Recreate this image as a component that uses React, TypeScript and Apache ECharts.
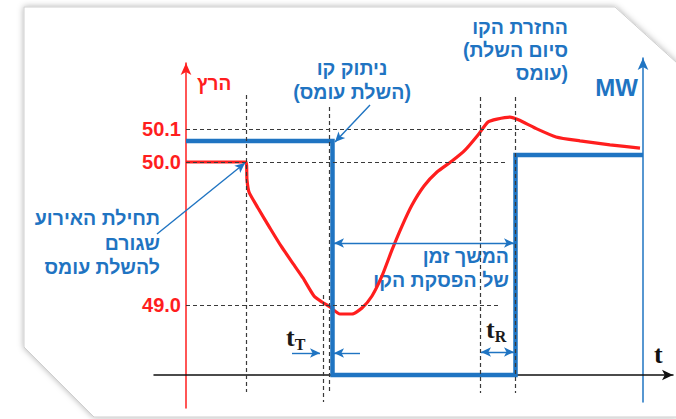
import { useEffect, useRef } from 'react';
import * as echarts from 'echarts';

// ---- data (time in arbitrary seconds, frequency in Hz, MW in % of load) ----
const timeSec = [0, 6.0, 6.1, 6.3, 7.2, 8.4, 9.5, 10.8, 11.7, 12.8, 13.6, 14.4, 15.4, 16.6, 17.6, 18.6, 19.6, 20.6, 21.6, 22.6, 23.8, 25.1, 26.6, 27.9, 29.2, 30.2, 31.1, 32.4, 33.3, 34.9, 37.0, 39.4, 42.4, 45.4];
const freqHz = [50.0, 50.0, 49.874, 49.79, 49.678, 49.538, 49.413, 49.28, 49.189, 49.063, 49.021, 48.986, 48.937, 48.937, 48.979, 49.063, 49.203, 49.385, 49.552, 49.699, 49.832, 49.93, 50.003, 50.036, 50.082, 50.121, 50.13, 50.136, 50.127, 50.103, 50.076, 50.064, 50.052, 50.042];

const mwTime = [0, 14.65, 14.65, 32.95, 32.95, 45.7];
const mwValue = [100, 100, 0, 0, 94, 94];

const freqTicks = [49.0, 50.0, 50.1];
const freqGuideEnd = [31.2, 31.9, 33.9];

const vGuideT = [6.0, 13.7, 14.35, 29.4, 32.95];
const vGuideTop = [28.0, 8.0, 26.8, 27.8, 27.8];
const vGuideBottom = [-1.7, -2.7, -1.8, -1.8, -1.8];

const arrowFrom = [[-2.9, 14.1], [18.4, 27.0], [28.9, 31.8], [14.8, 13.2], [10.6, 2.2], [17.4, 2.2], [29.5, 2.3]];
const arrowTo = [[5.9, 21.2], [14.9, 23.3], [32.6, 22.1], [32.8, 13.2], [13.4, 2.2], [14.8, 2.2], [32.8, 2.3]];
const arrowBoth = [false, false, false, true, false, false, true];

// schematic (piecewise) frequency scale of the diagram
const F_REF = 50.0;
const U_REF = 21.3;
const UP_SLOPE = 33;
const DOWN_SLOPE = 14.3;
const toAxis = (f: number) => (f >= F_REF ? U_REF + (f - F_REF) * UP_SLOPE : U_REF - (F_REF - f) * DOWN_SLOPE);

const RED = '#ff1e1e';
const BLUE = '#1f74c2';
const SANS = '"Liberation Sans", Arial, sans-serif';
const SERIF = '"Liberation Serif", "Times New Roman", serif';

export default function App() {
  const ref = useRef<HTMLDivElement>(null);

  useEffect(() => {
    if (!ref.current) return;
    const chart = echarts.init(ref.current, undefined, { renderer: 'svg' });
    const tickU = freqTicks.map(toAxis);

    const guides: any[] = [];
    freqTicks.forEach((f, i) => {
      guides.push([{ coord: [0, toAxis(f)] }, { coord: [freqGuideEnd[i], toAxis(f)] }]);
    });
    vGuideT.forEach((t, i) => {
      guides.push([{ coord: [t, vGuideTop[i]] }, { coord: [t, vGuideBottom[i]] }]);
    });

    const arrows = arrowFrom.map((a, i) => [
      { coord: a, symbol: arrowBoth[i] ? 'arrow' : 'none' },
      { coord: arrowTo[i], symbol: 'arrow' },
    ]);

    const textStyle = (extra: any) => ({
      fill: BLUE,
      fontFamily: SANS,
      fontWeight: 'bold',
      fontSize: 19.5,
      ...extra,
    });

    const richT = {
      a: { fontFamily: SERIF, fontWeight: 'bold', fontSize: 26, lineHeight: 30, fill: '#1a1a1a', verticalAlign: 'middle' },
      b: { fontFamily: SERIF, fontWeight: 'bold', fontSize: 16, lineHeight: 18, fill: '#1a1a1a', verticalAlign: 'bottom' },
    };

    const option: any = {
      animation: false,
      backgroundColor: '#ffffff',
      grid: [
        { left: 154, right: 3, top: 63, bottom: 11, outerBoundsMode: 'none' },
        { left: 154, right: 3, top: 58, bottom: 17, outerBoundsMode: 'none' },
      ],
      xAxis: [
        {
          type: 'value', gridIndex: 0, min: -3.2, max: 48.7,
          axisLine: { show: true, onZero: true, symbol: ['none', 'arrow'], symbolSize: [8, 11], lineStyle: { color: '#111', width: 1.5 } },
          axisTick: { show: false }, axisLabel: { show: false }, splitLine: { show: false },
        },
        { type: 'value', gridIndex: 1, min: -3.2, max: 48.7, show: false },
      ],
      yAxis: [
        {
          type: 'value', gridIndex: 0, min: -3.3, max: 31.2,
          axisLine: { show: true, onZero: true, symbol: ['none', 'arrow'], symbolSize: [8, 12], lineStyle: { color: RED, width: 1.5 } },
          axisTick: { show: false }, splitLine: { show: false },
          axisLabel: {
            show: true,
            customValues: tickU,
            formatter: (v: number) => {
              let best = 0;
              tickU.forEach((u, i) => { if (Math.abs(u - v) < Math.abs(tickU[best] - v)) best = i; });
              return freqTicks[best].toFixed(1);
            },
            color: RED, fontSize: 20, fontWeight: 'bold', fontFamily: SANS, margin: -27,
          },
        },
        {
          type: 'value', gridIndex: 1, min: -11.54, max: 135.47, position: 'right', offset: -30,
          axisLine: { show: true, onZero: false, symbol: ['none', 'arrow'], symbolSize: [8, 12], lineStyle: { color: BLUE, width: 1.5 } },
          axisTick: { show: false }, axisLabel: { show: false }, splitLine: { show: false },
        },
      ],
      series: [
        {
          type: 'line', name: 'guides', xAxisIndex: 0, yAxisIndex: 0, data: [], clip: false, silent: true, z: 1,
          markLine: {
            silent: true, symbol: ['none', 'none'], label: { show: false }, emphasis: { disabled: true },
            lineStyle: { color: '#3a3a3a', type: [4, 3], width: 1.2 },
            data: guides,
          },
        },
        {
          type: 'line', name: 'frequency', xAxisIndex: 0, yAxisIndex: 0,
          data: timeSec.map((t, i) => [t, toAxis(freqHz[i])]),
          showSymbol: false, smooth: 0.2, silent: true, z: 3,
          lineStyle: { color: RED, width: 3.2 }, itemStyle: { color: RED },
        },
        {
          type: 'line', name: 'MW', xAxisIndex: 1, yAxisIndex: 1,
          data: mwTime.map((t, i) => [t, mwValue[i]]),
          showSymbol: false, silent: true, z: 4,
          lineStyle: { color: BLUE, width: 4.5, join: 'miter' }, itemStyle: { color: BLUE },
        },
        {
          type: 'line', name: 'arrows', xAxisIndex: 0, yAxisIndex: 0, data: [], clip: false, silent: true, z: 5,
          markLine: {
            silent: true, symbolSize: [7, 10], label: { show: false }, emphasis: { disabled: true },
            lineStyle: { color: BLUE, type: 'solid', width: 1.4 },
            data: arrows,
          },
        },
      ],
      graphic: [
        {
          type: 'polygon', z: -100, silent: true,
          shape: { points: [[24, 7], [615, 7], [677, 63], [677, 417], [94, 417], [24, 347]] },
          style: { fill: '#fff', stroke: '#cfcfcf', lineWidth: 1, shadowBlur: 6, shadowColor: 'rgba(0,0,0,0.3)' },
        },
        { type: 'text', x: 197, y: 83, silent: true, style: textStyle({ text: 'הרץ', fill: RED, fontSize: 19, align: 'left', verticalAlign: 'middle' }) },
        { type: 'text', x: 352, y: 56, silent: true, style: textStyle({ text: 'ניתוק קו\n(השלת עומס)', align: 'center', verticalAlign: 'top', lineHeight: 24 }) },
        { type: 'text', x: 568, y: 15, silent: true, style: textStyle({ text: 'החזרת הקו\n(סיום השלת\nעומס)', align: 'right', verticalAlign: 'top', lineHeight: 23 }) },
        { type: 'text', x: 638, y: 87, silent: true, style: textStyle({ text: 'MW', fontSize: 24, align: 'right', verticalAlign: 'middle' }) },
        { type: 'text', x: 160, y: 206, silent: true, style: textStyle({ text: 'תחילת האירוע\nשגורם\nלהשלת עומס', align: 'right', verticalAlign: 'top', lineHeight: 24.5 }) },
        { type: 'text', x: 509, y: 244, silent: true, style: textStyle({ text: 'המשך זמן\nשל הפסקת הקו', align: 'right', verticalAlign: 'top', lineHeight: 24 }) },
        { type: 'text', x: 286, y: 322, silent: true, style: { text: '{a|t}{b|T}', align: 'left', verticalAlign: 'top', rich: richT } },
        { type: 'text', x: 486, y: 314, silent: true, style: { text: '{a|t}{b|R}', align: 'left', verticalAlign: 'top', rich: richT } },
        { type: 'text', x: 654, y: 354, silent: true, style: { text: 't', fontFamily: SERIF, fontWeight: 'bold', fontSize: 26, fill: '#111', align: 'left', verticalAlign: 'middle' } },
      ],
    };

    chart.setOption(option);
    return () => chart.dispose();
  }, []);

  return <div ref={ref} style={{ position: 'absolute', left: 0, top: 0, width: 676, height: 419 }} />;
}
